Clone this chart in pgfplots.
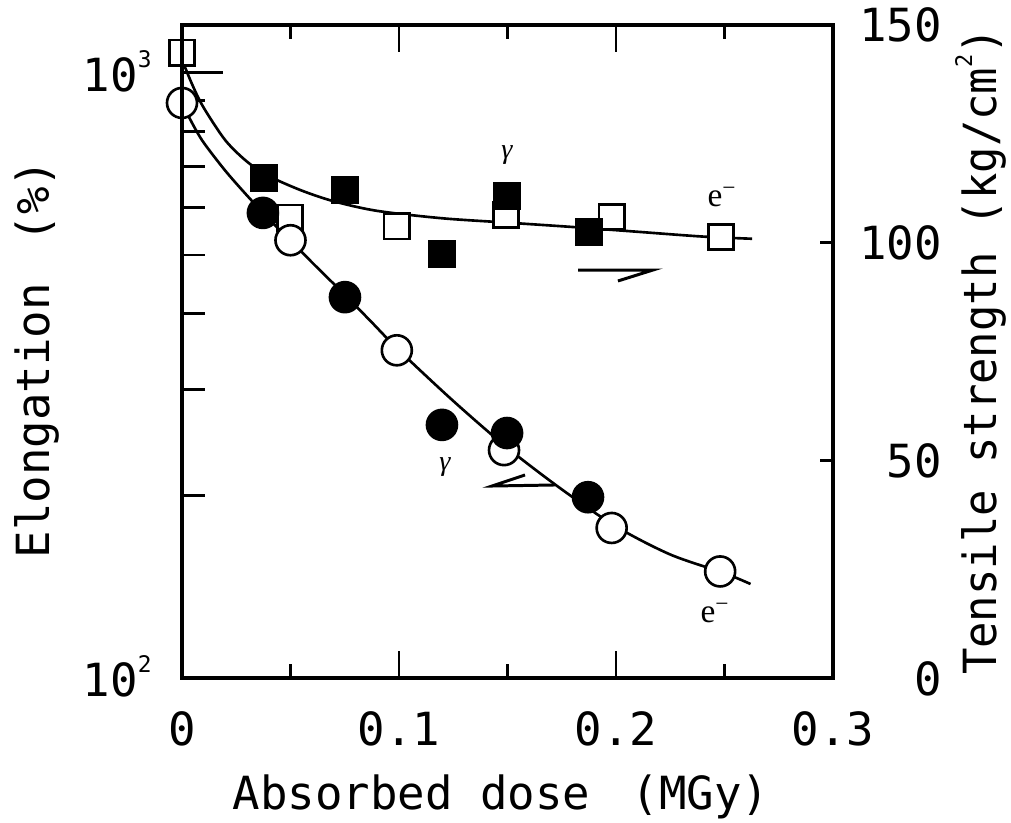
\documentclass[border=0pt]{standalone}
\usepackage{fontspec}
\setmonofont{DejaVu Sans Mono}
\newfontfamily\serif{Liberation Serif}
\usepackage{pgfplots}
\pgfplotsset{compat=1.18}

\newcommand{\tlfont}{\fontsize{26}{28}\selectfont\ttfamily}
\newcommand{\sups}[1]{\raisebox{0.48cm}{\fontsize{13}{13}\selectfont #1}}

\pgfplotsset{
  common/.style={
    scale only axis, width=13.02cm, height=13.06cm,
    at={(0,0)}, anchor=south west,
    xmin=0, xmax=0.3,
    clip=false, axis on top,
    tick align=inside,
    axis line style={line width=1.8pt},
    every tick/.style={black, line width=1.6pt},
    tick label style={font=\tlfont, inner sep=0pt},
  },
  esq/.style={only marks, mark=square*, mark size=0.254cm,
    mark options={fill=white, draw=black, line width=1.5pt}},
  fsq/.style={only marks, mark=square*, mark size=0.254cm,
    mark options={fill=black, draw=black, line width=1.5pt}},
  eci/.style={only marks, mark=*, mark size=0.30cm,
    mark options={fill=white, draw=black, line width=1.5pt}},
  fci/.style={only marks, mark=*, mark size=0.30cm,
    mark options={fill=black, draw=black, line width=1.5pt}},
}

\begin{document}
\begin{tikzpicture}
  % right axis: tensile strength (squares)
  \begin{axis}[common,
      ymin=0, ymax=150,
      axis x line=none, axis y line*=right,
      ytick={0,50,100,150}, yticklabels={0,50,100,150},
      major tick length=0.26cm,
      yticklabel style={anchor=base east, xshift=2.18cm, yshift=-0.34cm},
      ylabel={\scalebox{0.96}[1]{Tensile strength (kg/cm\sups{2})}},
      every axis y label/.style={at={(axis description cs:1.2504,0.5)},
        rotate=90, anchor=base, font=\tlfont, inner sep=0pt},
    ]
    \addplot[smooth, line width=1.5pt] coordinates {
      (0,142) (0.005,136) (0.01,131) (0.02,123.5) (0.03,118.6) (0.04,115.3)
      (0.055,112) (0.07,109.5) (0.09,107.3) (0.12,105.6) (0.15,104.6)
      (0.18,103.6) (0.21,102.5) (0.24,101.4) (0.2627,100.9)};
    \addplot[esq] coordinates {
      (0,143.6) (0.0498,105.7) (0.099,103.8) (0.1493,106.4) (0.198,105.9) (0.2484,101.3)};
    \addplot[fsq] coordinates {
      (0.0378,114.9) (0.0751,112.1) (0.1198,97.4) (0.1498,110.7) (0.1876,102.5)};
  \end{axis}

  % left axis: elongation (circles), log scale
  \begin{axis}[common,
      ymode=log, ymin=100, ymax=1200,
      axis x line=none, axis y line*=left,
      ytick={100,1000}, yticklabels={10\sups{2},10\sups{3}},
      minor ytick={200,300,400,500,600,700,800,900},
      major tick length=0.82cm, minor tick length=0.46cm,
      yticklabel style={anchor=base east, xshift=-0.6cm, yshift=-0.38cm},
      ylabel={Elongation\hspace{0.9em}(\%)},
      every axis y label/.style={at={(axis description cs:-0.2028,0.4885)},
        rotate=90, anchor=base, font=\tlfont, inner sep=0pt},
    ]
    \addplot[smooth, line width=1.5pt] coordinates {
      (0,891) (0.005,822) (0.01,767) (0.02,689) (0.03,627) (0.04,574)
      (0.05,528) (0.0625,476) (0.075,430) (0.0875,387) (0.1,348) (0.125,287)
      (0.15,240) (0.175,205) (0.2,178) (0.225,160) (0.25,149) (0.262,143)};
    \addplot[eci] coordinates {
      (0,892) (0.05,529) (0.099,348) (0.1484,238) (0.198,177) (0.248,150)};
    \addplot[fci] coordinates {
      (0.0373,587) (0.0751,426) (0.1198,262) (0.1498,254) (0.1871,199)};
  \end{axis}

  % frame and x axis
  \begin{axis}[common, name=fr,
      ymin=0, ymax=1, ytick=\empty,
      xtick={0,0.1,0.2,0.3}, xticklabels={0,0.1,0.2,0.3},
      minor xtick={0.05,0.15,0.25},
      major tick length=0.54cm, minor tick length=0.28cm,
      xticklabel style={anchor=base, yshift=-1.34cm},
      xlabel={Absorbed dose\hspace{0.9em}(MGy)},
      every axis x label/.style={at={(axis description cs:0.49,-0.2021)},
        anchor=base, font=\tlfont, inner sep=0pt},
    ]
    \node at (rel axis cs:0.4992,0.801) {\fontsize{16}{16}\selectfont\serif\itshape γ};
    \node at (rel axis cs:0.404,0.323) {\fontsize{16}{16}\selectfont\serif\itshape γ};
    \node at (rel axis cs:0.8295,0.7366) {\fontsize{19}{19}\selectfont\serif e\textsuperscript{−}};
    \node at (rel axis cs:0.8187,0.0995) {\fontsize{19}{19}\selectfont\serif e\textsuperscript{−}};
    \draw[line width=1.7pt] (rel axis cs:0.6083,0.6248) -- (rel axis cs:0.7235,0.6248)
      -- (rel axis cs:0.6697,0.6080);
    \draw[line width=1.7pt] (rel axis cs:0.573,0.2956) -- (rel axis cs:0.4762,0.294)
      -- (rel axis cs:0.5269,0.3109);
  \end{axis}

  \pgfresetboundingbox
  \path (fr.south west) ++(-3.64cm,-2.88cm) rectangle ++(20.22cm,16.44cm);
\end{tikzpicture}
\end{document}
